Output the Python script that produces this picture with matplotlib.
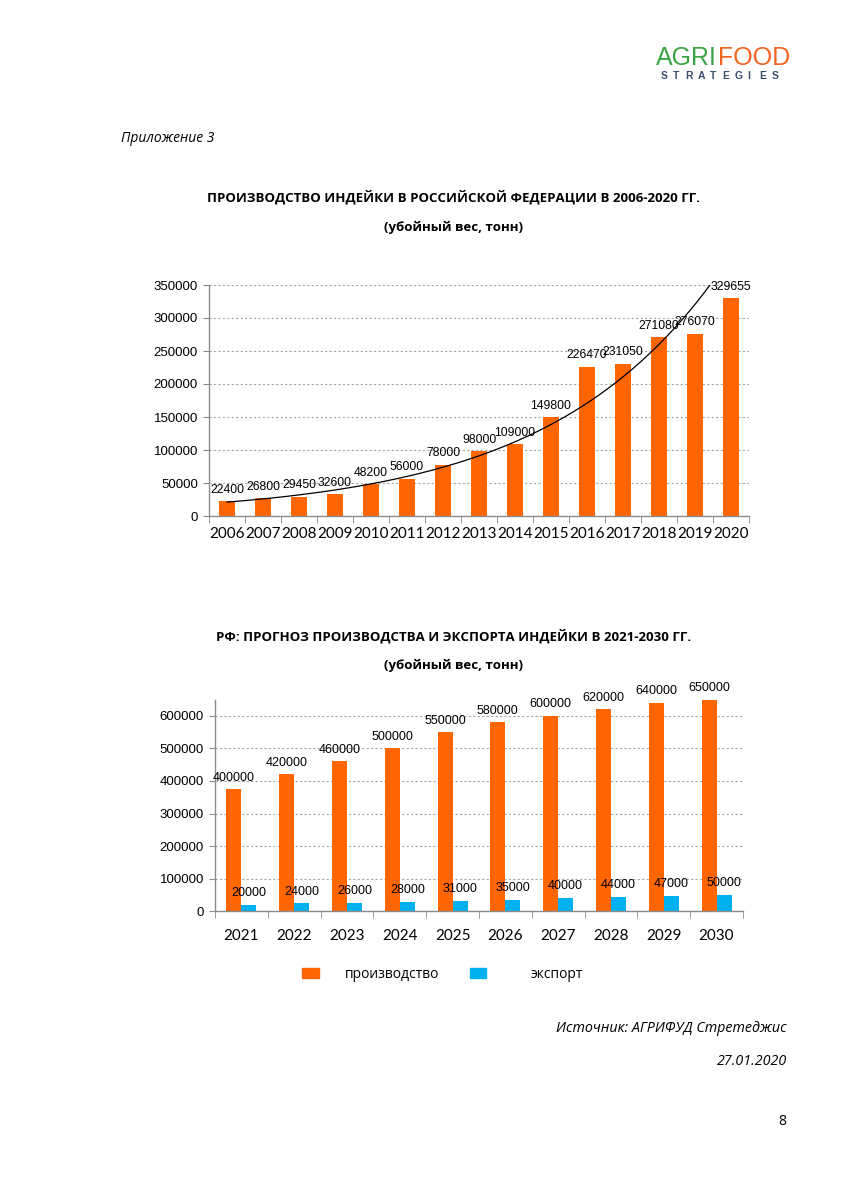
import numpy as np
import matplotlib
matplotlib.use("Agg")
import matplotlib.pyplot as plt
from matplotlib.patches import Patch

# data: production 2006-2020
years_hist = ["2006", "2007", "2008", "2009", "2010", "2011", "2012", "2013",
              "2014", "2015", "2016", "2017", "2018", "2019", "2020"]
prod_hist = [22400, 26800, 29450, 32600, 48200, 56000, 78000, 98000,
             109000, 149800, 226470, 231050, 271080, 276070, 329655]

# data: forecast 2021-2030 (bar heights as drawn, labels as printed)
years_fc = ["2021", "2022", "2023", "2024", "2025", "2026", "2027", "2028", "2029", "2030"]
prod_fc = [375000, 420000, 460000, 500000, 550000, 580000, 600000, 620000, 640000, 650000]
prod_fc_labels = ["400000", "420000", "460000", "500000", "550000",
                  "580000", "600000", "620000", "640000", "650000"]
export_fc = [20000, 24000, 26000, 28000, 31000, 35000, 40000, 44000, 47000, 50000]

ORANGE = "#FF6600"
BLUE = "#00B0F0"
GRAY = "#8C8C8C"
TXT = ["Open Sans", "DejaVu Sans"]
NUM = ["Liberation Sans", "DejaVu Sans"]
YEAR = ["Lato", "Open Sans", "DejaVu Sans"]

fig = plt.figure(figsize=(8.48, 12), dpi=100)
fig.patch.set_facecolor("white")


def style_axes(ax, n, ymax, step, ticktop=None):
    ax.set_xlim(-0.5, n - 0.5)
    ax.set_ylim(0, ymax)
    ax.set_yticks(np.arange(0, (ticktop or ymax) + 1, step))
    ax.yaxis.grid(True, color="#A6A6A6", linestyle=(0, (2, 2)), linewidth=0.8)
    ax.set_axisbelow(True)
    for s in ["top", "right"]:
        ax.spines[s].set_visible(False)
    for s in ["left", "bottom"]:
        ax.spines[s].set_color(GRAY)
        ax.spines[s].set_linewidth(1)
    ax.tick_params(axis="y", length=4, color=GRAY, pad=4)
    ax.set_xticks(np.arange(-0.5, n), minor=True)
    ax.tick_params(axis="x", which="minor", length=5, color=GRAY)
    ax.tick_params(axis="x", which="major", length=0, pad=10)
    for t in ax.get_yticklabels():
        t.set_family(NUM)
        t.set_fontsize(9.5)


# logo
fig.text(0.8455, 0.946, "AGRI", family=NUM, fontsize=18, color="#3AA346", ha="right", va="baseline")
fig.text(0.8465, 0.946, "FOOD", family=NUM, fontsize=18, color="#F26522", ha="left", va="baseline")
for i, ch in enumerate("STRATEGIES"):
    fig.text(0.779 + i * 0.0146, 0.9345, ch, family=NUM, fontsize=7.5, weight="bold",
             color="#3C4D6B", ha="left", va="baseline")

fig.text(0.1427, 0.885, "Приложение 3", family=TXT, style="italic", fontsize=10, va="center")

# chart 1
fig.text(0.535, 0.8358, "ПРОИЗВОДСТВО ИНДЕЙКИ В РОССИЙСКОЙ ФЕДЕРАЦИИ В 2006-2020 ГГ.",
         family=TXT, weight="bold", fontsize=9.5, ha="center", va="center")
fig.text(0.535, 0.8108, "(убойный вес, тонн)", family=TXT, weight="bold", fontsize=9.5,
         ha="center", va="center")

ax1 = fig.add_axes([0.2465, 0.57, 0.6368, 0.1925])
x1 = np.arange(len(years_hist))
ax1.bar(x1, prod_hist, width=0.42, color=ORANGE, zorder=2)
style_axes(ax1, len(years_hist), 350000, 50000)
ax1.set_xticks(x1)
ax1.set_xticklabels(years_hist, family=YEAR, fontsize=11)
ax1.tick_params(axis="x", which="major", pad=8)
for xi, v in zip(x1, prod_hist):
    ax1.annotate(str(v), (xi, v), xytext=(0, 4), textcoords="offset points",
                 ha="center", va="bottom", family=NUM, fontsize=8.7)

# exponential trend line fitted to the data
b, a = np.polyfit(x1, np.log(prod_hist), 1)
xt = np.linspace(0, len(years_hist) - 1, 200)
ax1.plot(xt, np.exp(a + b * xt), color="black", linewidth=0.9, zorder=3)

# chart 2
fig.text(0.535, 0.47, "РФ: ПРОГНОЗ ПРОИЗВОДСТВА И ЭКСПОРТА ИНДЕЙКИ В 2021-2030 ГГ.",
         family=TXT, weight="bold", fontsize=9.5, ha="center", va="center")
fig.text(0.535, 0.4458, "(убойный вес, тонн)", family=TXT, weight="bold", fontsize=9.5,
         ha="center", va="center")

ax2 = fig.add_axes([0.2535, 0.2408, 0.6226, 0.1761])
x2 = np.arange(len(years_fc))
w = 0.284
ax2.bar(x2 - w / 2, prod_fc, width=w, color=ORANGE, zorder=2)
ax2.bar(x2 + w / 2, export_fc, width=w, color=BLUE, zorder=2)
style_axes(ax2, len(years_fc), 650000, 100000, ticktop=600000)
ax2.set_xticks(x2)
ax2.set_xticklabels(years_fc, family=YEAR, fontsize=11)
ax2.tick_params(axis="x", which="major", pad=13)
for xi, v, lab in zip(x2, prod_fc, prod_fc_labels):
    ax2.annotate(lab, (xi - w / 2, v), xytext=(0, 4), textcoords="offset points",
                 ha="center", va="bottom", family=NUM, fontsize=9)
for xi, v in zip(x2, export_fc):
    ax2.annotate(str(v), (xi + w / 2, v), xytext=(0, 4), textcoords="offset points",
                 ha="center", va="bottom", family=NUM, fontsize=9)

# legend: two entries placed separately (wider gap before the second label)
leg_kw = dict(frameon=False, prop={"family": TXT, "size": 10},
              handlelength=1.2, handleheight=0.7, borderpad=0, borderaxespad=0)
fig.legend(handles=[Patch(color=ORANGE, label="производство")], loc="center left",
           bbox_to_anchor=(0.356, 0.188), handletextpad=1.9, **leg_kw)
fig.legend(handles=[Patch(color=BLUE, label="экспорт")], loc="center left",
           bbox_to_anchor=(0.554, 0.188), handletextpad=3.2, **leg_kw)

# footer
fig.text(0.928, 0.1433, "Источник: АГРИФУД Стретеджис", family=TXT, style="italic",
         fontsize=10.3, ha="right", va="center")
fig.text(0.928, 0.1158, "27.01.2020", family=TXT, style="italic", fontsize=10.3,
         ha="right", va="center")
fig.text(0.923, 0.0658, "8", family=TXT, fontsize=10, ha="center", va="center")

fig.savefig("out.png", dpi=100, facecolor="white")
